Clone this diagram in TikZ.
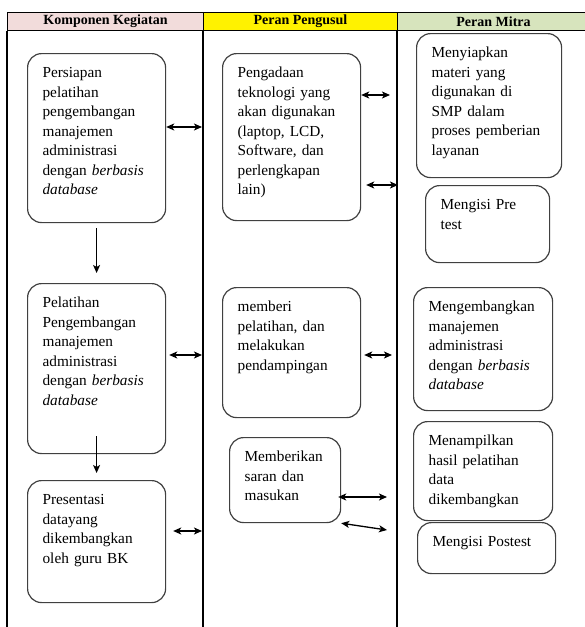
\documentclass[tikz,border=0pt]{standalone}
\usepackage{fontspec}
\setmainfont{Liberation Serif}
\usetikzlibrary{arrows.meta,positioning}
\definecolor{merahmuda}{RGB}{242,220,219}
\definecolor{hijaumuda}{RGB}{215,228,189}
\hyphenpenalty=10000

\begin{document}
\begin{tikzpicture}
    [
      x=1pt, y=-1pt,
      kepala/.style={draw, line width=1pt, anchor=north west, minimum height=18pt, inner sep=0pt, font=\fontsize{14}{16}\selectfont\bfseries},
      kotak/.style={draw=black!75, line width=1.2pt, rounded corners=14pt, anchor=north west, align=left, inner xsep=15pt, inner ysep=13pt, text height=11pt, font=\fontsize{15.3}{19.5}\selectfont},
      garis/.style={line width=1.2pt},
      post/.style={<->,>={Stealth[length=8pt,width=7pt,inset=2pt]},line width=1.3pt},
      turun/.style={->,>={Stealth[length=8pt,width=7pt,inset=2pt]},line width=1.3pt},
    ]

    \useasboundingbox (0,0) rectangle (585,627);

    % kepala tabel
    \node (kol-komponen) [kepala, fill=merahmuda, minimum width=196pt] at (7,12) {Komponen Kegiatan};
    \node (kol-pengusul) [kepala, fill=yellow, minimum width=194pt] at (203,12) {Peran Pengusul};
    \node (kol-mitra) [kepala, fill=hijaumuda, minimum width=192pt] at (397,12) {Peran Mitra};
    \draw [garis] (kol-komponen.south west) -- ++(0,597);
    \draw [garis] (kol-pengusul.south west) -- ++(0,597);
    \draw [garis] (kol-mitra.south west) -- ++(0,597);

    % komponen kegiatan
    \node (persiapan) [kotak, text width=108pt, text depth=132pt] at (27,53) {Persiapan\\ pelatihan\\ pengembangan\\ manajemen\\ administrasi\\ dengan \textit{berbasis}\\ \textit{database}};
    \node (pelatihan) [kotak, text width=108pt, text depth=133pt] at (27,283) {Pelatihan\\ Pengembangan\\ manajemen\\ administrasi\\ dengan \textit{berbasis}\\ \textit{database}};
    \node (presentasi) [kotak, text width=108pt, text depth=85pt] at (27,480) {Presentasi\\ datayang\\ dikembangkan\\ oleh guru BK};

    % peran pengusul
    \node (pengadaan) [kotak, text width=108pt, text depth=130pt] at (222,53) {Pengadaan\\ teknologi yang\\ akan digunakan\\ (laptop, LCD,\\ Software, dan\\ perlengkapan\\ lain)};
    \node (pendampingan) [kotak, text width=108pt, text depth=93pt] at (222,287) {memberi\\ pelatihan, dan\\ melakukan\\ pendampingan};
    \node (saran) [kotak, text width=81pt, text depth=48pt] at (229,437) {Memberikan\\ saran dan\\ masukan};

    % peran mitra
    \node (materi) [kotak, text width=115pt, text depth=107pt] at (416,33) {Menyiapkan\\ materi yang\\ digunakan di\\ SMP dalam\\ proses pemberian\\ layanan};
    \node (pretest) [kotak, text width=94pt, text depth=40pt] at (425,185) {Mengisi Pre\\ test};
    \node (kembang) [kotak, text width=109pt, text depth=86pt] at (413,287) {Mengembangkan\\ manajemen\\ administrasi\\ dengan \textit{berbasis}\\ \textit{database}};
    \node (tampil) [kotak, text width=109pt, text depth=62pt] at (413,421) {Menampilkan\\ hasil pelatihan\\ data\\ dikembangkan};
    \node (postest) [kotak, text width=108pt, text depth=14pt] at (417,522) {Mengisi Postest};

    % ujung panah
    \coordinate (k1) at (202,127);
    \coordinate (k2) at (202,355);
    \coordinate (k3) at (202,531);
    \coordinate (m1) at (390,95);
    \coordinate (m2) at (398,185);
    \coordinate (m3) at (392,355);
    \coordinate (m4) at (387,497);
    \coordinate (m5) at (387,530);

    \draw [turun] ([yshift=-5pt]persiapan.south) -- ([yshift=10pt]pelatihan.north);
    \draw [turun] ([yshift=18pt]pelatihan.south) -- ([yshift=7pt]presentasi.north);

    \path
    (persiapan.east |- k1) edge [post] (k1)
    (pelatihan.east |- k2) edge [post, shorten <=3pt] (k2)
    (presentasi.east |- k3) edge [post, shorten <=7pt] (k3)

    (pengadaan.east |- m1) edge [post] (m1)
    (pengadaan.east |- m2) edge [post, shorten <=5pt] (m2)
    (pendampingan.east |- m3) edge [post, shorten <=3pt] (m3)
    (saran.east |- m4) edge [post, shorten <=-3pt] (m4)
    (saran.south east) edge [post] (m5)
    ;

  \end{tikzpicture}
\end{document}
